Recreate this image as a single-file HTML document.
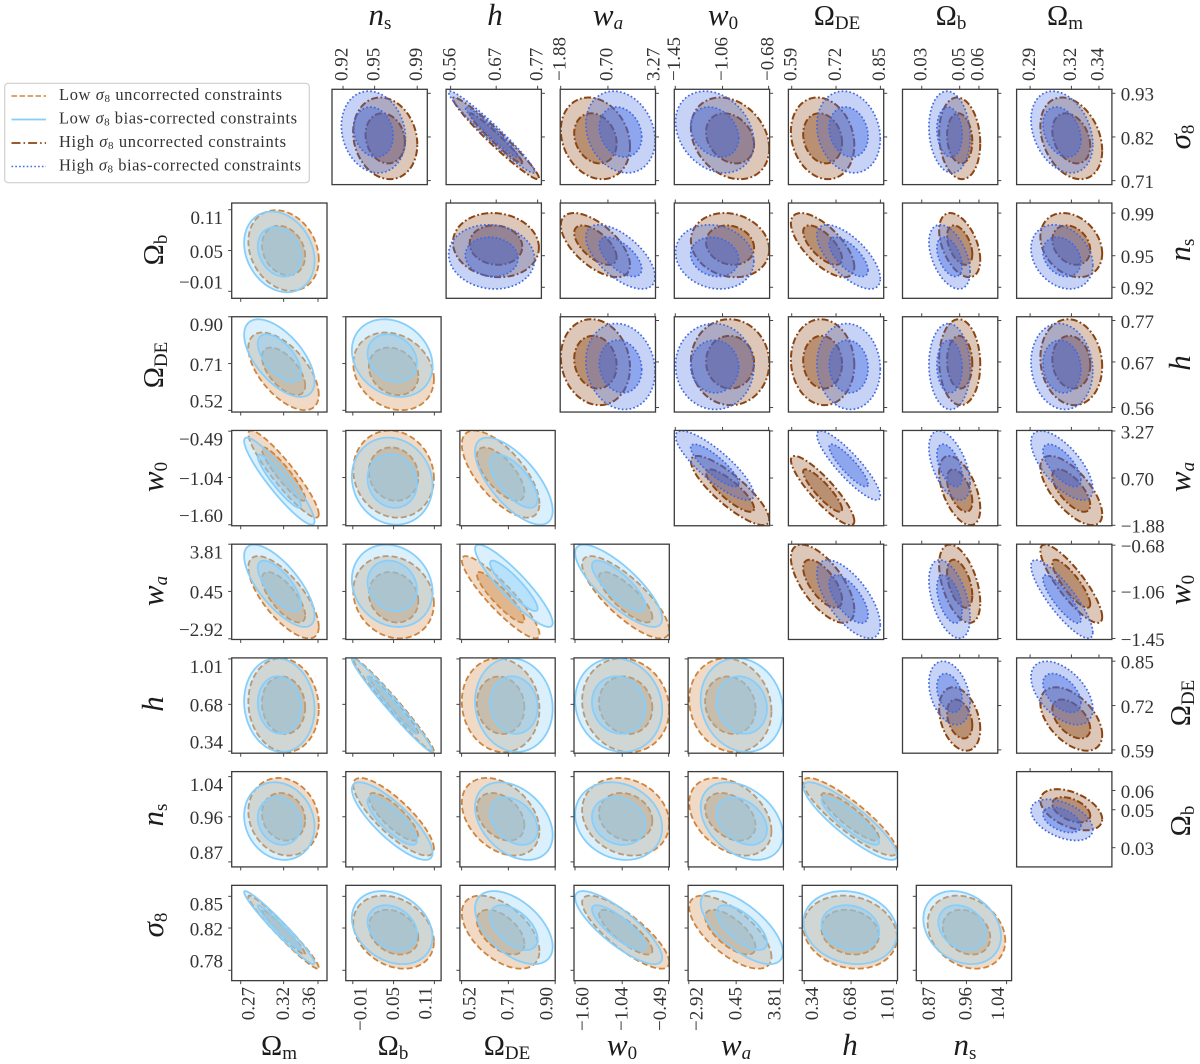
<!DOCTYPE html>
<html lang="en">
<head>
<meta charset="utf-8">
<title>Fisher forecast corner plot</title>
<style>
html,body{margin:0;padding:0;background:#fff;width:1200px;height:1064px;overflow:hidden}
svg{display:block;filter:blur(0.35px)}
text{font-family:"Liberation Serif","DejaVu Serif",serif;fill:#2a2a2a}
.tick-label{font-size:19px;fill:#333}
.title{font-size:28.5px;text-anchor:middle;fill:#1c1c1c}
.it{font-style:italic;font-size:31px}
.sub{font-size:19px}
.legend-text{font-size:16.5px;fill:#333}
.legend-sub{font-size:11px}
</style>
</head>
<body>
<svg id="chart" xmlns="http://www.w3.org/2000/svg" width="1200" height="1064" viewBox="0 0 1200 1064">
  <defs id="clips"></defs>
  <rect x="0" y="0" width="1200" height="1064" fill="#ffffff"/>
  <g id="panels"></g>

  <g>
    <text class="title" x="380" y="25"><tspan class="it">n</tspan><tspan class="sub" dy="4">s</tspan></text>
    <text class="title" x="495" y="25"><tspan class="it">h</tspan></text>
    <text class="title" x="608" y="25"><tspan class="it">w</tspan><tspan class="sub" dy="4" font-style="italic">a</tspan></text>
    <text class="title" x="723" y="25"><tspan class="it">w</tspan><tspan class="sub" dy="4">0</tspan></text>
    <text class="title" x="837" y="25">Ω<tspan class="sub" dy="4">DE</tspan></text>
    <text class="title" x="951" y="25">Ω<tspan class="sub" dy="4">b</tspan></text>
    <text class="title" x="1065" y="25">Ω<tspan class="sub" dy="4">m</tspan></text>
  </g>

  <g>
    <text class="title" x="279" y="1055">Ω<tspan class="sub" dy="4">m</tspan></text>
    <text class="title" x="393" y="1055">Ω<tspan class="sub" dy="4">b</tspan></text>
    <text class="title" x="507" y="1055">Ω<tspan class="sub" dy="4">DE</tspan></text>
    <text class="title" x="622" y="1055"><tspan class="it">w</tspan><tspan class="sub" dy="4">0</tspan></text>
    <text class="title" x="736" y="1055"><tspan class="it">w</tspan><tspan class="sub" dy="4" font-style="italic">a</tspan></text>
    <text class="title" x="850" y="1055"><tspan class="it">h</tspan></text>
    <text class="title" x="965" y="1055"><tspan class="it">n</tspan><tspan class="sub" dy="4">s</tspan></text>
  </g>

  <g>
    <text class="title" transform="translate(163,250) rotate(-90)">Ω<tspan class="sub" dy="4">b</tspan></text>
    <text class="title" transform="translate(163,365) rotate(-90)">Ω<tspan class="sub" dy="4">DE</tspan></text>
    <text class="title" transform="translate(163,477) rotate(-90)"><tspan class="it">w</tspan><tspan class="sub" dy="4">0</tspan></text>
    <text class="title" transform="translate(163,591) rotate(-90)"><tspan class="it">w</tspan><tspan class="sub" dy="4" font-style="italic">a</tspan></text>
    <text class="title" transform="translate(163,704) rotate(-90)"><tspan class="it">h</tspan></text>
    <text class="title" transform="translate(163,815) rotate(-90)"><tspan class="it">n</tspan><tspan class="sub" dy="4">s</tspan></text>
    <text class="title" transform="translate(163,925) rotate(-90)"><tspan class="it">σ</tspan><tspan class="sub" dy="4">8</tspan></text>
  </g>

  <g>
    <text class="title" transform="translate(1190,137) rotate(-90)"><tspan class="it">σ</tspan><tspan class="sub" dy="4">8</tspan></text>
    <text class="title" transform="translate(1190,250) rotate(-90)"><tspan class="it">n</tspan><tspan class="sub" dy="4">s</tspan></text>
    <text class="title" transform="translate(1190,363) rotate(-90)"><tspan class="it">h</tspan></text>
    <text class="title" transform="translate(1190,477) rotate(-90)"><tspan class="it">w</tspan><tspan class="sub" dy="4" font-style="italic">a</tspan></text>
    <text class="title" transform="translate(1190,590) rotate(-90)"><tspan class="it">w</tspan><tspan class="sub" dy="4">0</tspan></text>
    <text class="title" transform="translate(1190,703) rotate(-90)">Ω<tspan class="sub" dy="4">DE</tspan></text>
    <text class="title" transform="translate(1190,821) rotate(-90)">Ω<tspan class="sub" dy="4">b</tspan></text>
  </g>

  <g>
    <rect x="4.7" y="83.3" width="304.6" height="99.4" rx="3.5" ry="3.5" fill="#ffffff" stroke="#cfcfcf" stroke-width="1.2"/>
    <g>
      <line x1="11.5" x2="46" y1="96" y2="96" stroke="#cd853f" stroke-width="1.6" stroke-dasharray="5.5 2.5"/>
      <text class="legend-text" x="59" y="100" textLength="223">Low <tspan font-style="italic">σ</tspan><tspan class="legend-sub" dy="2">8</tspan><tspan dy="-2"> uncorrected constraints</tspan></text>
    </g>
    <g>
      <line x1="11.5" x2="46" y1="119.5" y2="119.5" stroke="#87cefa" stroke-width="1.8"/>
      <text class="legend-text" x="59" y="123.3" textLength="238">Low <tspan font-style="italic">σ</tspan><tspan class="legend-sub" dy="2">8</tspan><tspan dy="-2"> bias-corrected constraints</tspan></text>
    </g>
    <g>
      <line x1="11.5" x2="46" y1="143" y2="143" stroke="#8b4513" stroke-width="1.8" stroke-dasharray="9 3 1.6 3"/>
      <text class="legend-text" x="59" y="147" textLength="227">High <tspan font-style="italic">σ</tspan><tspan class="legend-sub" dy="2">8</tspan><tspan dy="-2"> uncorrected constraints</tspan></text>
    </g>
    <g>
      <line x1="11.5" x2="46" y1="166.5" y2="166.5" stroke="#4169e1" stroke-width="1.6" stroke-dasharray="1.6 2.2"/>
      <text class="legend-text" x="59" y="170.3" textLength="242">High <tspan font-style="italic">σ</tspan><tspan class="legend-sub" dy="2">8</tspan><tspan dy="-2"> bias-corrected constraints</tspan></text>
    </g>
  </g>
</svg>

<script>
// ---- parameter order used by every array below ----
const params = ['Om', 'Ob', 'ODE', 'w0', 'wa', 'h', 'ns', 's8'];

// ---- lower triangle (low sigma8) axis data ----
const lowerLimLo = [0.2595, -0.0203, 0.5131, -1.612, -2.970, 0.3254, 0.86, 0.7702];
const lowerLimHi = [0.3705, 0.1199, 0.9001, -0.4817, 3.811, 1.0173, 1.05, 0.8604];
const lowerTicksOm = [0.27, 0.32, 0.36];
const lowerTicksOb = [-0.01, 0.05, 0.11];
const lowerTicksODE = [0.52, 0.71, 0.90];
const lowerTicksW0 = [-1.60, -1.04, -0.49];
const lowerTicksWa = [-2.92, 0.45, 3.81];
const lowerTicksH = [0.34, 0.68, 1.01];
const lowerTicksNs = [0.87, 0.96, 1.04];
const lowerTicksS8 = [0.78, 0.82, 0.85];
const lowerLabelsOm = ['0.27', '0.32', '0.36'];
const lowerLabelsOb = ['−0.01', '0.05', '0.11'];
const lowerLabelsODE = ['0.52', '0.71', '0.90'];
const lowerLabelsW0 = ['−1.60', '−1.04', '−0.49'];
const lowerLabelsWa = ['−2.92', '0.45', '3.81'];
const lowerLabelsH = ['0.34', '0.68', '1.01'];
const lowerLabelsNs = ['0.87', '0.96', '1.04'];
const lowerLabelsS8 = ['0.78', '0.82', '0.85'];

// ---- upper triangle (high sigma8) axis data ----
const upperLimLo = [0.2802, 0.0199, 0.5803, -1.458, -1.907, 0.5491, 0.9096, 0.6999];
const upperLimHi = [0.3494, 0.0699, 0.8597, -0.672, 3.298, 0.7791, 0.9995, 0.9401];
const upperTicksOm = [0.29, 0.32, 0.34];
const upperTicksOb = [0.03, 0.0499, 0.06];
const upperTicksODE = [0.59, 0.72, 0.85];
const upperTicksW0 = [-1.45, -1.06, -0.68];
const upperTicksWa = [-1.88, 0.70, 3.27];
const upperTicksH = [0.56, 0.67, 0.77];
const upperTicksNs = [0.92, 0.9498, 0.99];
const upperTicksS8 = [0.71, 0.82, 0.93];
const upperLabelsOm = ['0.29', '0.32', '0.34'];
const upperLabelsOb = ['0.03', '0.05', '0.06'];
const upperLabelsODE = ['0.59', '0.72', '0.85'];
const upperLabelsW0 = ['−1.45', '−1.06', '−0.68'];
const upperLabelsWa = ['−1.88', '0.70', '3.27'];
const upperLabelsH = ['0.56', '0.67', '0.77'];
const upperLabelsNs = ['0.92', '0.95', '0.99'];
const upperLabelsS8 = ['0.71', '0.82', '0.93'];

// ---- series: fiducial means and 1-sigma widths, same order as params ----
const lowUncorrectedMean = [0.3199, 0.0500, 0.6785, -0.9993, 0.035, 0.6735, 0.9600, 0.8161];
const lowCorrectedMean = [0.3150, 0.0480, 0.7322, -1.0826, 0.849, 0.6750, 0.9514, 0.8204];
const lowSigma = [0.01654, 0.02393, 0.06356, 0.2082, 1.180, 0.1372, 0.0312, 0.01394];
const highUncorrectedMean = [0.3199, 0.0499, 0.6806, -0.998, 0.016, 0.6694, 0.9598, 0.8165];
const highCorrectedMean = [0.3131, 0.04456, 0.7568, -1.125, 1.386, 0.6590, 0.9487, 0.8324];
const highSigma = [0.00905, 0.00435, 0.03748, 0.1302, 0.762, 0.0418, 0.0122, 0.0415];

// ---- correlation coefficients: lower rows Ob..s8 against columns Om..ns ----
const lowerRowOb = [-0.22];
const lowerRowODE = [-0.60, -0.20];
const lowerRowW0 = [-0.92, -0.10, -0.68];
const lowerRowWa = [-0.72, -0.15, -0.90, -0.80];
const lowerRowH = [-0.08, -0.98, -0.08, -0.10, -0.12];
const lowerRowNs = [-0.14, -0.82, -0.36, -0.17, -0.36, -0.88];
const lowerRowS8 = [-0.97, -0.26, -0.52, -0.82, -0.68, -0.15, -0.24];

// ---- correlation coefficients: upper rows s8..Ob against columns ns..Om (right aligned) ----
const upperRowS8 = [-0.15, -0.97, -0.20, -0.25, -0.17, -0.12, -0.30];
const upperRowNs = [-0.08, -0.62, -0.14, -0.68, -0.46, -0.26];
const upperRowH = [-0.12, -0.02, -0.06, -0.05, -0.10];
const upperRowWa = [-0.84, -0.88, -0.52, -0.68];
const upperRowW0 = [-0.66, -0.48, -0.85];
const upperRowODE = [-0.32, -0.50];
const upperRowOb = [-0.46];

// ---- panel ordering ----
const lowerXOrder = ['Om', 'Ob', 'ODE', 'w0', 'wa', 'h', 'ns'];
const lowerYOrder = ['Ob', 'ODE', 'w0', 'wa', 'h', 'ns', 's8'];
const upperXOrder = ['ns', 'h', 'wa', 'w0', 'ODE', 'Ob', 'Om'];
const upperYOrder = ['s8', 'ns', 'h', 'wa', 'w0', 'ODE', 'Ob'];

const lowerTicks = {Om: lowerTicksOm, Ob: lowerTicksOb, ODE: lowerTicksODE, w0: lowerTicksW0, wa: lowerTicksWa, h: lowerTicksH, ns: lowerTicksNs, s8: lowerTicksS8};
const lowerLabels = {Om: lowerLabelsOm, Ob: lowerLabelsOb, ODE: lowerLabelsODE, w0: lowerLabelsW0, wa: lowerLabelsWa, h: lowerLabelsH, ns: lowerLabelsNs, s8: lowerLabelsS8};
const upperTicks = {Om: upperTicksOm, Ob: upperTicksOb, ODE: upperTicksODE, w0: upperTicksW0, wa: upperTicksWa, h: upperTicksH, ns: upperTicksNs, s8: upperTicksS8};
const upperLabels = {Om: upperLabelsOm, Ob: upperLabelsOb, ODE: upperLabelsODE, w0: upperLabelsW0, wa: upperLabelsWa, h: upperLabelsH, ns: upperLabelsNs, s8: upperLabelsS8};
const lowerRho = [lowerRowOb, lowerRowODE, lowerRowW0, lowerRowWa, lowerRowH, lowerRowNs, lowerRowS8];
const upperRho = [upperRowS8, upperRowNs, upperRowH, upperRowWa, upperRowW0, upperRowODE, upperRowOb];

// ---- layout ----
const NS = 'http://www.w3.org/2000/svg';
const panelW = 95.3;
const pitchX = 114.1;
const pitchY = 113.72;
const lowerLeft = 231.7;
const upperLeft = 332;
const topY = 89.3;
const K_INNER = 1.52;
const K_OUTER = 2.48;
const root = document.getElementById('panels');
const clips = document.getElementById('clips');
let clipId = 0;

function make(tag, parent) {
  const el = document.createElementNS(NS, tag);
  parent.appendChild(el);
  return el;
}

function xAxis(value, p, lo, hi, x0) {
  const i = params.indexOf(p);
  return x0 + (value - lo[i]) / (hi[i] - lo[i]) * panelW;
}
function yAxis(value, p, lo, hi, y0) {
  const i = params.indexOf(p);
  return y0 + panelW - (value - lo[i]) / (hi[i] - lo[i]) * panelW;
}

function ellipsePath(px, py, meanArr, sigmaArr, rho, k, lo, hi, x0, y0) {
  const ix = params.indexOf(px);
  const iy = params.indexOf(py);
  const phi = Math.acos(rho);
  let d = '';
  const N = 120;
  for (let t = 0; t < N; t++) {
    const a = t / N * 2 * Math.PI;
    const vx = meanArr[ix] + k * sigmaArr[ix] * Math.cos(a);
    const vy = meanArr[iy] + k * sigmaArr[iy] * Math.cos(a - phi);
    d += (t ? 'L' : 'M') + xAxis(vx, px, lo, hi, x0).toFixed(2) + ' ' + yAxis(vy, py, lo, hi, y0).toFixed(2);
  }
  return d + 'Z';
}

function drawContours(g, style, px, py, meanArr, sigmaArr, rho, lo, hi, x0, y0) {
  const outer = make('path', g);
  
  
  outer.setAttribute('d', ellipsePath(px, py, meanArr, sigmaArr, rho, K_OUTER, lo, hi, x0, y0));
  outer.setAttribute('fill', style.color);
  outer.setAttribute('fill-opacity', '0.3');
  outer.setAttribute('stroke', style.color);
  outer.setAttribute('stroke-width', style.width);
  outer.setAttribute('stroke-dasharray', style.dash);
  const inner = make('path', g);
  
  
  inner.setAttribute('d', ellipsePath(px, py, meanArr, sigmaArr, rho, K_INNER, lo, hi, x0, y0));
  inner.setAttribute('fill', style.color);
  inner.setAttribute('fill-opacity', '0.42');
  inner.setAttribute('stroke', style.color);
  inner.setAttribute('stroke-width', style.width);
  inner.setAttribute('stroke-dasharray', style.dash);
}

function drawTick(g, x1, y1, x2, y2) {
  const tick = make('line', g);
  
  
  tick.setAttribute('x1', x1);
  tick.setAttribute('y1', y1);
  tick.setAttribute('x2', x2);
  tick.setAttribute('y2', y2);
  tick.setAttribute('stroke', '#444');
  tick.setAttribute('stroke-width', '1');
}

function drawTickLabel(text, x, y, anchor, rotate) {
  const label = make('text', root);
  
  
  label.setAttribute('class', 'tick-label');
  label.setAttribute('text-anchor', anchor);
  if (rotate) {
    label.setAttribute('transform', 'translate(' + x + ',' + y + ') rotate(-90)');
  } else {
    label.setAttribute('x', x);
    label.setAttribute('y', y);
  }
  label.textContent = text;
}

function drawPanel(px, py, x0, y0, first, second, rho, lo, hi, tickSet, side) {
  const g = make('g', root);
  
  
  const id = 'clip' + (clipId++);
  const cp = make('clipPath', clips);
  cp.setAttribute('id', id);
  const cr = make('rect', cp);
  cr.setAttribute('x', x0);
  cr.setAttribute('y', y0);
  cr.setAttribute('width', panelW);
  cr.setAttribute('height', panelW);
  const marks = make('g', g);
  
  
  marks.setAttribute('clip-path', 'url(#' + id + ')');
  drawContours(marks, first.style, px, py, first.mean, first.sigma, rho, lo, hi, x0, y0);
  drawContours(marks, second.style, px, py, second.mean, second.sigma, rho, lo, hi, x0, y0);
  const frame = make('rect', g);
  
  
  frame.setAttribute('x', x0);
  frame.setAttribute('y', y0);
  frame.setAttribute('width', panelW);
  frame.setAttribute('height', panelW);
  frame.setAttribute('fill', 'none');
  frame.setAttribute('stroke', '#3c3c3c');
  frame.setAttribute('stroke-width', '1.3');
  tickSet[px].forEach(function (v) {
    const tx = xAxis(v, px, lo, hi, x0);
    if (side === 'lower') drawTick(g, tx, y0 + panelW, tx, y0 + panelW + 3.5);
    else drawTick(g, tx, y0 - 3.5, tx, y0);
  });
  tickSet[py].forEach(function (v) {
    const ty = yAxis(v, py, lo, hi, y0);
    if (side === 'lower') drawTick(g, x0 - 3.5, ty, x0, ty);
    else drawTick(g, x0 + panelW, ty, x0 + panelW + 3.5, ty);
  });
}

const lowerShiftX = [7.5, -1, -9];
const lowerShiftY = [-9, 1, 8];

// ---- lower triangle ----
const lowOrange = {name: 'low-uncorrected', color: '#cd853f', width: '1.8', dash: '6 3'};
const lowBlue = {name: 'low-corrected', color: '#87cefa', width: '1.8', dash: 'none'};
lowerYOrder.forEach(function (py, r) {
  const y0 = topY + pitchY * (r + 1);
  lowerXOrder.forEach(function (px, c) {
    if (c > r) return;
    const x0 = lowerLeft + pitchX * c;
    drawPanel(px, py, x0, y0,
      {style: lowOrange, mean: lowUncorrectedMean, sigma: lowSigma},
      {style: lowBlue, mean: lowCorrectedMean, sigma: lowSigma},
      lowerRho[r][c], lowerLimLo, lowerLimHi, lowerTicks, 'lower');
  });
  // y tick labels on the left column
  lowerTicks[py].forEach(function (v, i) {
    const ty = yAxis(v, py, lowerLimLo, lowerLimHi, y0);
    drawTickLabel(lowerLabels[py][i], 223, ty + lowerShiftY[i] + 6.3, 'end', false);
  });
});
// x tick labels under the bottom row
lowerXOrder.forEach(function (px, c) {
  const x0 = lowerLeft + pitchX * c;
  lowerTicks[px].forEach(function (v, i) {
    const tx = xAxis(v, px, lowerLimLo, lowerLimHi, x0);
    drawTickLabel(lowerLabels[px][i], tx + lowerShiftX[i] + 6.2, 987, 'end', true);
  });
});

// ---- upper triangle ----
const highBrown = {name: 'high-uncorrected', color: '#8b4513', width: '2', dash: '7 2.4 1.8 2.4'};
const highBlue = {name: 'high-corrected', color: '#4169e1', width: '1.7', dash: '1.7 2.2'};
upperYOrder.forEach(function (py, r) {
  const y0 = topY + pitchY * r;
  upperXOrder.forEach(function (px, c) {
    if (c < r) return;
    const x0 = upperLeft + pitchX * c;
    drawPanel(px, py, x0, y0,
      {style: highBrown, mean: highUncorrectedMean, sigma: highSigma},
      {style: highBlue, mean: highCorrectedMean, sigma: highSigma},
      upperRho[r][c - r], upperLimLo, upperLimHi, upperTicks, 'upper');
  });
  // y tick labels on the right column
  upperTicks[py].forEach(function (v, i) {
    const ty = yAxis(v, py, upperLimLo, upperLimHi, y0);
    drawTickLabel(upperLabels[py][i], 1120.7, ty + 7.4, 'start', false);
  });
});
// x tick labels above the top row
upperXOrder.forEach(function (px, c) {
  const x0 = upperLeft + pitchX * c;
  upperTicks[px].forEach(function (v, i) {
    const tx = xAxis(v, px, upperLimLo, upperLimHi, x0);
    drawTickLabel(upperLabels[px][i], tx - 1.5 + 6.2, 81, 'start', true);
  });
});
</script>
</body>
</html>
